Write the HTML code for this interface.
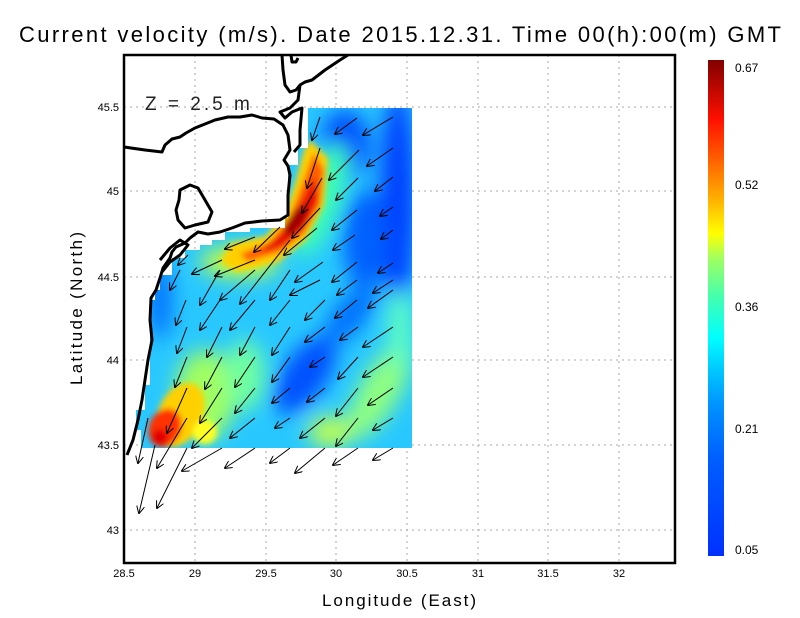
<!DOCTYPE html>
<html><head><meta charset="utf-8"><style>
html,body{margin:0;padding:0;background:#fff;}
svg{display:block;font-family:"Liberation Sans",sans-serif;}
</style></head><body>
<svg id="s" width="800" height="618" viewBox="0 0 800 618" xmlns="http://www.w3.org/2000/svg">
<defs>
<linearGradient id="cb" x1="0" y1="1" x2="0" y2="0">
<stop offset="0" stop-color="#0030ff"/>
<stop offset="0.2" stop-color="#0060ff"/>
<stop offset="0.3" stop-color="#0090ff"/>
<stop offset="0.38" stop-color="#00ccff"/>
<stop offset="0.44" stop-color="#00ffff"/>
<stop offset="0.52" stop-color="#40ffb0"/>
<stop offset="0.6" stop-color="#a0ff60"/>
<stop offset="0.65" stop-color="#ffff00"/>
<stop offset="0.72" stop-color="#ffb000"/>
<stop offset="0.8" stop-color="#ff6000"/>
<stop offset="0.88" stop-color="#ff1000"/>
<stop offset="1" stop-color="#800000"/>
</linearGradient>
<filter id="bl" x="-20%" y="-20%" width="140%" height="140%"><feGaussianBlur stdDeviation="10"/></filter>
<filter id="bl2" x="-30%" y="-30%" width="160%" height="160%"><feGaussianBlur stdDeviation="3"/></filter>
<clipPath id="dc"><path d="M308,108 H412 V448 H141 V430 H136 V410 H145 V385 H150 V300 H155 V290 H160 V275 H172 V258 H185 V250 H200 V245 H212 V240 H225 V232 H250 V228 H285 V218 H288 V165 H298 V148 H308 Z"/></clipPath>
<marker id="ah" markerWidth="8" markerHeight="8" refX="7" refY="4" orient="auto" markerUnits="userSpaceOnUse"><path d="M0,0 L8,4 L0,8" fill="none" stroke="#000" stroke-width="1"/></marker>
</defs>
<g stroke="#aaa" stroke-dasharray="2,4" stroke-width="1">
<line x1="195" y1="55" x2="195" y2="563"/><line x1="266" y1="55" x2="266" y2="563"/><line x1="336" y1="55" x2="336" y2="563"/><line x1="407" y1="55" x2="407" y2="563"/><line x1="478" y1="55" x2="478" y2="563"/><line x1="548" y1="55" x2="548" y2="563"/><line x1="619" y1="55" x2="619" y2="563"/>
<line x1="124" y1="107" x2="675" y2="107"/><line x1="124" y1="191" x2="675" y2="191"/><line x1="124" y1="277" x2="675" y2="277"/><line x1="124" y1="360" x2="675" y2="360"/><line x1="124" y1="445" x2="675" y2="445"/><line x1="124" y1="530" x2="675" y2="530"/>
</g>
<g clip-path="url(#dc)">
<rect x="120" y="100" width="300" height="360" fill="#28c8ff"/>
<g filter="url(#bl)">
<ellipse cx="398" cy="200" rx="18" ry="110" fill="#0040ff"/>
<ellipse cx="345" cy="145" rx="25" ry="35" fill="#0050ff"/>
<ellipse cx="365" cy="240" rx="22" ry="50" fill="#0060ff"/>
<ellipse cx="305" cy="375" rx="22" ry="45" fill="#0050ff" transform="rotate(35 305 375)"/>
<ellipse cx="350" cy="315" rx="16" ry="35" fill="#0070ff" transform="rotate(40 350 315)"/>
<ellipse cx="160" cy="300" rx="12" ry="40" fill="#0070ff"/>
<ellipse cx="205" cy="395" rx="30" ry="45" fill="#a0ff60"/>
<ellipse cx="245" cy="375" rx="20" ry="35" fill="#70ffa0"/>
<ellipse cx="380" cy="390" rx="20" ry="55" fill="#90ff80" transform="rotate(30 380 390)"/>
<ellipse cx="330" cy="432" rx="22" ry="16" fill="#c0ff50"/>
<ellipse cx="400" cy="330" rx="12" ry="40" fill="#60ffc0"/>
<ellipse cx="320" cy="200" rx="20" ry="60" fill="#40ffb0" transform="rotate(20 320 200)"/>
<ellipse cx="240" cy="262" rx="40" ry="16" fill="#c0ff40"/>
</g>
<g filter="url(#bl2)">
<ellipse cx="180" cy="415" rx="22" ry="34" fill="#ffd000" transform="rotate(25 180 415)"/>
<ellipse cx="165" cy="428" rx="16" ry="20" fill="#ff3000" transform="rotate(25 165 428)"/>
<ellipse cx="160" cy="437" rx="8" ry="8" fill="#e00000"/>
<ellipse cx="205" cy="432" rx="12" ry="12" fill="#ffff20"/>
<path d="M310,140 L328,158 L324,205 L306,240 L278,262 L238,272 L220,262 L230,244 L266,236 L286,210 L296,180 L304,150 Z" fill="#ffd000"/>
<path d="M314,152 L324,170 L320,205 L304,234 L280,252 L248,262 L240,254 L270,242 L290,216 L302,185 Z" fill="#ff6000"/>
<path d="M314,175 L318,200 L304,228 L282,246 L262,252 L266,244 L286,230 L300,205 Z" fill="#e81000"/>
<ellipse cx="296" cy="220" rx="7" ry="18" fill="#a00000" transform="rotate(35 296 220)"/>
</g>
</g>
<g fill="none" stroke="#000" stroke-width="3" stroke-linejoin="round">
<path d="M124,147 L145,150 L162,152 L165,145 L172,139 L180,137 L186,133 L195,128 L205,124 L215,120 L228,117 L240,117 L252,115 L262,118 L274,119 L283,125 L288,135 L290,150 L284,160 L288,166 L290,175 L288,195 L288,215 L280,220 L262,221 L245,223 L232,228 L220,232 L208,234 L198,232 L190,238 L185,243 L176,247 L172,252 L170,258 L163,268 L160,278 L156,290 L151,298 L150,320 L152,340 L148,360 L145,380 L142,400 L138,420 L133,440 L127,455"/>
<path d="M180,190 L190,185 L198,188 L205,200 L212,212 L208,222 L195,225 L185,228 L178,220 L176,210 L179,200 Z"/>
<path d="M160,260 L170,248 L180,240 L188,245 L180,255 L170,262 L162,272"/>
<path d="M282,55 L283,70 L285,85 L290,92 L296,90 L300,85 L305,82 L312,80 L325,70 L340,60 L348,55"/>
<path d="M291,55 L292,62 L296,62 L298,58"/>
<path d="M300,85 L298,100 L290,108 L280,112 L285,118 L292,112 L302,108 L300,130 L300,145 L294,152"/>
</g>
<text x="145" y="110" font-size="19" fill="#222" letter-spacing="3">Z = 2.5 m</text>
<g id="arr" stroke="#000" stroke-width="1" marker-end="url(#ah)"></g>
<rect x="124" y="55" width="551" height="508" fill="none" stroke="#000" stroke-width="2.5"/>
<g font-size="11" fill="#000" text-anchor="middle">
<text x="124" y="577">28.5</text><text x="195" y="577">29</text><text x="266" y="577">29.5</text><text x="336" y="577">30</text><text x="407" y="577">30.5</text><text x="478" y="577">31</text><text x="548" y="577">31.5</text><text x="619" y="577">32</text>
</g>
<g font-size="11" fill="#000" text-anchor="end">
<text x="119" y="111">45.5</text><text x="119" y="195">45</text><text x="119" y="281">44.5</text><text x="119" y="364">44</text><text x="119" y="449">43.5</text><text x="119" y="534">43</text>
</g>
<text x="19" y="42" font-size="22" fill="#000" textLength="762" lengthAdjust="spacing">Current velocity (m/s). Date 2015.12.31. Time 00(h):00(m) GMT</text>
<text x="322" y="606" font-size="17" fill="#000" textLength="154" lengthAdjust="spacing">Longitude (East)</text>
<text transform="translate(82,385) rotate(-90)" font-size="17" fill="#000" textLength="153" lengthAdjust="spacing">Latitude (North)</text>
<rect x="708" y="60" width="16" height="496" fill="url(#cb)"/>
<g font-size="12" fill="#000">
<text x="735" y="72">0.67</text><text x="735" y="189">0.52</text><text x="735" y="311">0.36</text><text x="735" y="433">0.21</text><text x="735" y="554">0.05</text>
</g>
</svg>
<script>
var A=[
[[320,117,-8,23],[357,118,-22,16],[393,117,-30,18]],
[[320,148,-13,40],[359,150,-30,30],[393,148,-26,18]],
[[322,178,-20,35],[358,178,-22,22],[393,177,-18,14]],
[[320,208,-28,30],[357,210,-25,20],[393,207,-13,9]],
[[255,237,-30,12],[280,227,-26,25],[317,228,-33,27],[355,235,-22,15],[393,230,-12,9]],
[[188,255,-10,10],[222,260,-30,14],[255,260,-40,16],[290,240,-50,64],[323,262,-28,20],[357,262,-25,20],[393,263,-15,10]],
[[180,270,-10,20],[220,270,-20,35],[255,270,-35,30],[290,270,-20,30],[320,280,-30,15],[357,280,-20,15],[393,280,-20,13]],
[[186,300,-10,25],[220,300,-20,30],[255,300,-25,30],[290,300,-20,25],[325,300,-20,20],[357,300,-22,18],[393,290,-25,18]],
[[187,327,-10,26],[222,327,-15,30],[255,327,-15,28],[290,327,-18,28],[325,327,-20,15],[358,327,-18,13],[393,327,-30,20]],
[[187,357,-12,30],[222,357,-17,32],[255,357,-20,30],[290,357,-18,25],[325,357,-15,10],[358,357,-20,22],[393,357,-30,20]],
[[187,388,-20,45],[222,388,-22,35],[255,388,-20,25],[290,388,-18,15],[325,388,-18,14],[358,388,-22,28],[393,388,-25,17]],
[[148,418,-10,45],[187,418,-30,50],[222,418,-30,30],[255,418,-25,20],[290,418,-15,10],[325,418,-25,20],[358,418,-22,28],[393,418,-20,12]],
[[155,445,-16,68],[187,448,-30,60],[222,448,-40,23],[255,448,-30,20],[290,448,-20,15],[325,448,-30,25],[358,448,-25,17],[393,448,-20,12]]
];
var g=document.getElementById('arr'),ns='http://www.w3.org/2000/svg';
A.forEach(function(r){r.forEach(function(a){var l=document.createElementNS(ns,'line');l.setAttribute('x1',a[0]);l.setAttribute('y1',a[1]);l.setAttribute('x2',a[0]+a[2]);l.setAttribute('y2',a[1]+a[3]);g.appendChild(l);});});
</script>
</body></html>
